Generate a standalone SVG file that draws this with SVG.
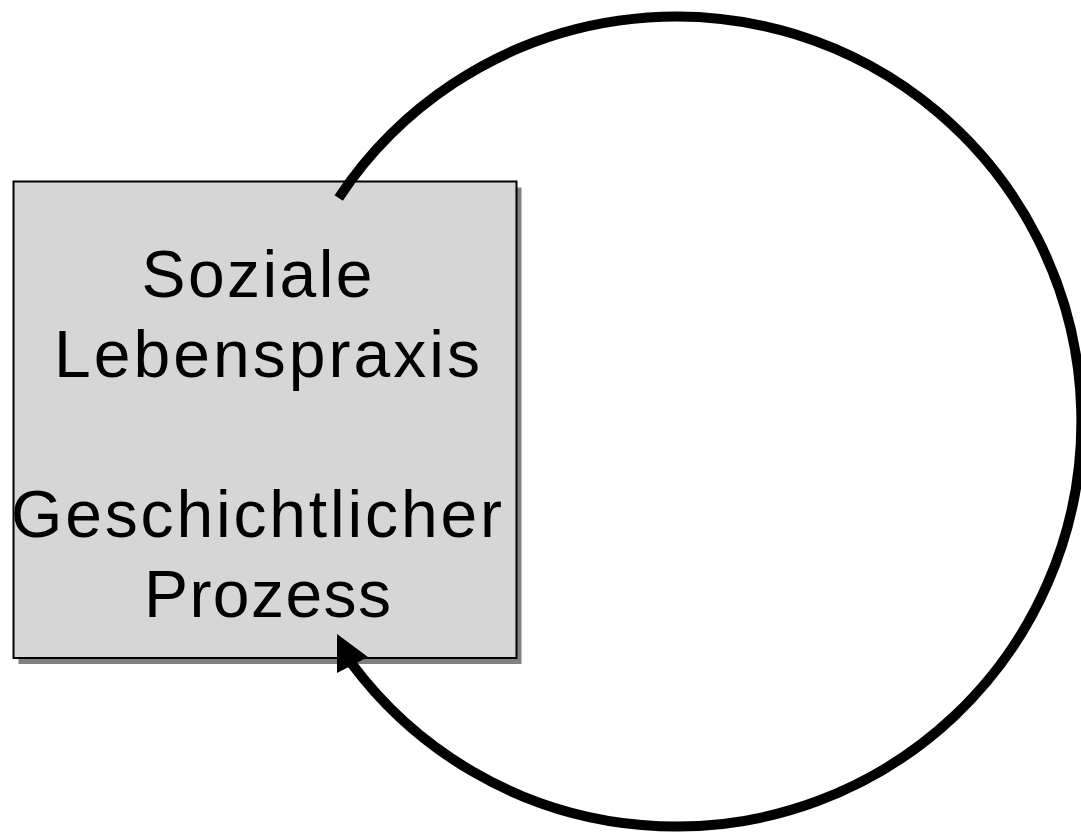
<svg xmlns="http://www.w3.org/2000/svg" width="1081" height="832" viewBox="0 0 1081 832">
  <style>
    .lbl { font-family: "Liberation Sans", Arial, sans-serif; font-size: 66px; fill: #000; }
    .conn { fill: none; stroke: #000; stroke-width: 10; stroke-linecap: butt; }
  </style>
  <rect x="0" y="0" width="1081" height="832" fill="#ffffff"/>
  <g id="node-box">
    <rect x="18.5" y="187.5" width="503" height="476.5" fill="#808080"/>
    <rect x="13.5" y="181.5" width="503" height="476.5" fill="#d6d6d6" stroke="#000" stroke-width="2"/>
    <text class="lbl" x="141.5" y="297" textLength="231" lengthAdjust="spacing">Soziale</text>
    <text class="lbl" x="54" y="377" textLength="426" lengthAdjust="spacing">Lebenspraxis</text>
    <text class="lbl" x="11" y="537" textLength="491" lengthAdjust="spacing">Geschichtlicher</text>
    <text class="lbl" x="144" y="617" textLength="247" lengthAdjust="spacing">Prozess</text>
  </g>
  <g id="connectors">
    <path class="conn" d="M 338.7 197.9 A 405 405 0 1 1 352 664"/>
    <polygon points="337,634 337,673 368,657" fill="#000"/>
  </g>
</svg>
